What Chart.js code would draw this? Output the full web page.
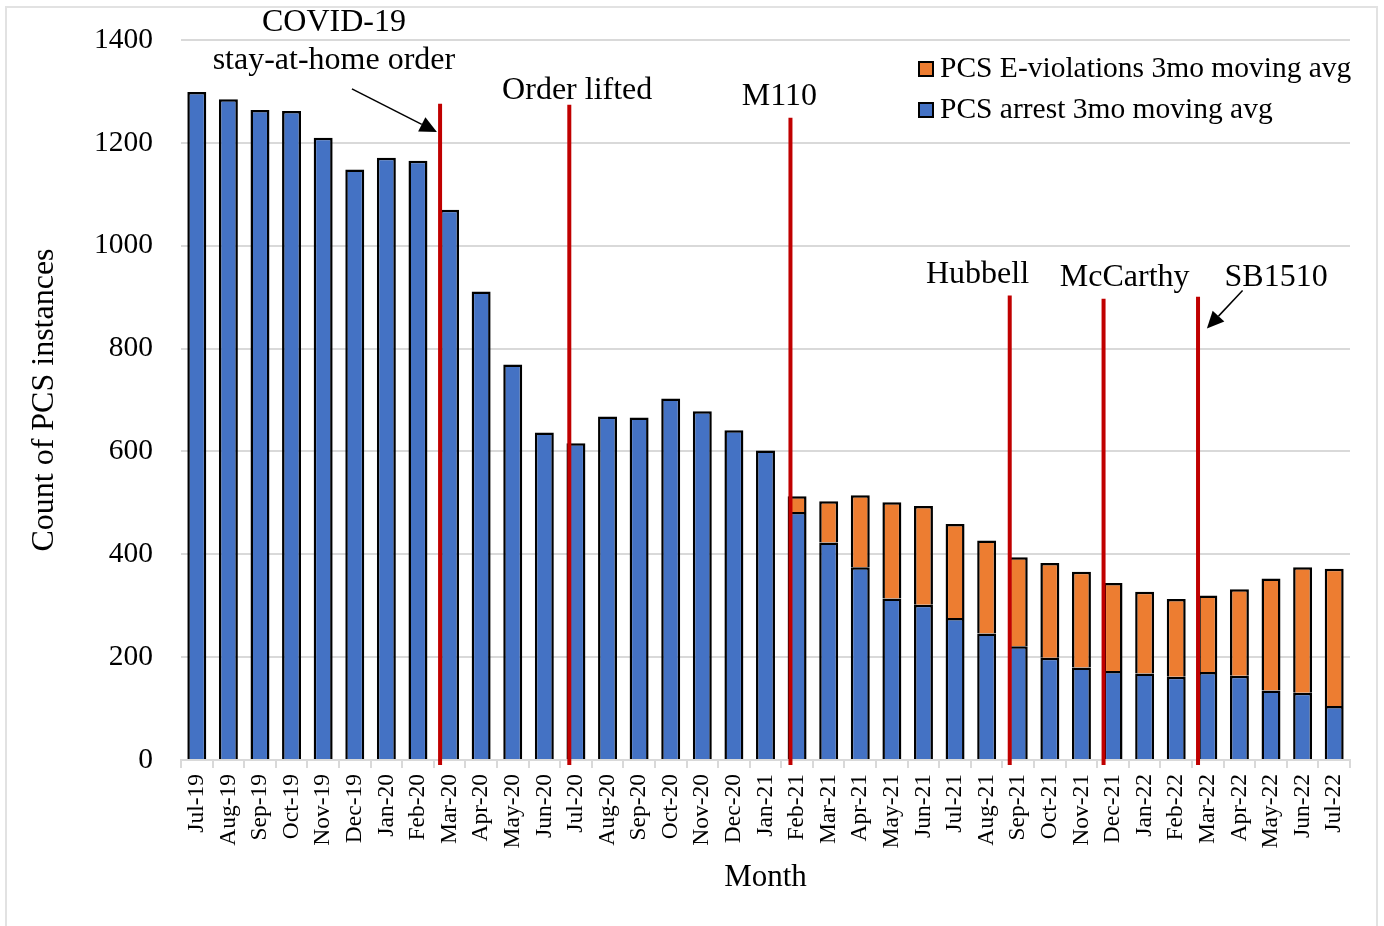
<!DOCTYPE html>
<html>
<head>
<meta charset="utf-8">
<script src="https://cdn.jsdelivr.net/npm/chart.js@4"></script>
<style>
  html, body { margin: 0; padding: 0; background: #fff; }
  #wrap { position: relative; width: 1384px; height: 926px; }
  #frame { position: absolute; left: 5px; top: 6px; width: 1373px; height: 940px; border: 2px solid #e2e2e2; box-sizing: border-box; pointer-events: none; }
</style>
</head>
<body>
<div id="wrap">
  <canvas id="pcsChart"></canvas>
  <div id="frame"></div>
</div>
<script>
// Data
const months = ["Jul-19","Aug-19","Sep-19","Oct-19","Nov-19","Dec-19","Jan-20","Feb-20","Mar-20","Apr-20","May-20","Jun-20",
  "Jul-20","Aug-20","Sep-20","Oct-20","Nov-20","Dec-20","Jan-21","Feb-21","Mar-21","Apr-21","May-21","Jun-21",
  "Jul-21","Aug-21","Sep-21","Oct-21","Nov-21","Dec-21","Jan-22","Feb-22","Mar-22","Apr-22","May-22","Jun-22","Jul-22"];
const arrestAvg = [1299,1285,1264,1262,1210,1148,1171,1165,1070,911,769,637,
  616,668,666,703,678,641,602,482,423,375,314,302,
  276,246,221,199,180,173,168,162,171,164,135,131,105];
const eViolationAvg = [null,null,null,null,null,null,null,null,null,null,null,null,
  null,null,null,null,null,null,null,31,80,140,187,192,
  183,181,173,184,186,171,159,151,149,168,218,244,267];
const yTicks = [0,200,400,600,800,1000,1200,1400];

// Policy events: position on the month axis, top of the marker line
const eventPos = [7.7, 11.79, 18.79, 25.73, 28.7, 31.69];
const eventTop = [1276, 1274, 1249, 903, 897, 901];
// Annotation texts [text, month position, value]
const notes = [
  ["COVID-19", 4.34, 1433],
  ["stay-at-home order", 4.34, 1359],
  ["Order lifted", 12.04, 1301],
  ["M110", 18.44, 1289],
  ["Hubbell", 24.71, 944],
  ["McCarthy", 29.37, 938],
  ["SB1510", 34.16, 938]
];
// Arrows [fromPos, fromVal, toPos, toVal]
const arrows = [
  [4.91, 1305, 7.6, 1221],
  [33.1, 913, 31.97, 839]
];

const FONT = "'Liberation Serif', 'Times New Roman', serif";
const BLUE = "#4472C4";
const ORANGE = "#ED7D31";

// ===================================
// ANNOTATION PLUGIN
// ===================================
const annotationPlugin = {
  id: "pcsAnnotations",
  afterDatasetsDraw(chart) {
    const { ctx, scales: { x, y }, chartArea } = chart;
    ctx.save();
    // red event lines
    ctx.strokeStyle = "#C00000";
    ctx.lineWidth = 4;
    eventPos.forEach((p, i) => {
      const px = x.getPixelForValue(p);
      ctx.beginPath();
      ctx.moveTo(px, y.getPixelForValue(eventTop[i]));
      ctx.lineTo(px, chartArea.bottom + 5);
      ctx.stroke();
    });
    // labels
    ctx.fillStyle = "#000";
    ctx.font = "32px " + FONT;
    ctx.textAlign = "center";
    ctx.textBaseline = "middle";
    notes.forEach(([t, p, v]) => {
      ctx.fillText(t, x.getPixelForValue(p), y.getPixelForValue(v));
    });
    // arrows
    arrows.forEach(([p0, v0, p1, v1]) => {
      const x0 = x.getPixelForValue(p0), y0 = y.getPixelForValue(v0);
      const x1 = x.getPixelForValue(p1), y1 = y.getPixelForValue(v1);
      const ang = Math.atan2(y1 - y0, x1 - x0);
      const len = 17, half = 8;
      const bx = x1 - len * Math.cos(ang), by = y1 - len * Math.sin(ang);
      ctx.strokeStyle = "#000";
      ctx.lineWidth = 1.5;
      ctx.beginPath();
      ctx.moveTo(x0, y0);
      ctx.lineTo(bx, by);
      ctx.stroke();
      ctx.beginPath();
      ctx.moveTo(x1, y1);
      ctx.lineTo(bx + half * Math.sin(ang), by - half * Math.cos(ang));
      ctx.lineTo(bx - half * Math.sin(ang), by + half * Math.cos(ang));
      ctx.closePath();
      ctx.fill();
    });
    // legend (orange listed first, as in the source)
    const items = [chart.data.datasets[1], chart.data.datasets[0]];
    const lx = chartArea.right - 431;
    ctx.font = "29.5px " + FONT;
    ctx.textAlign = "left";
    items.forEach((ds, i) => {
      const cy = chartArea.top + 29 + i * 41;
      ctx.fillStyle = ds.backgroundColor;
      ctx.fillRect(lx, cy - 7, 14, 14);
      ctx.strokeStyle = "#000";
      ctx.lineWidth = 2;
      ctx.strokeRect(lx, cy - 7, 14, 14);
      ctx.fillStyle = "#000";
      ctx.fillText(ds.label, lx + 21, cy);
    });
    ctx.restore();
  }
};

// ===================================
// CHART
// ===================================
new Chart(document.getElementById("pcsChart"), {
  type: "bar",
  data: {
    labels: months,
    datasets: [
      {
        label: "PCS arrest 3mo moving avg",
        data: arrestAvg,
        backgroundColor: BLUE,
        borderColor: "#000",
        borderWidth: 2.5,
        borderSkipped: "start"
      },
      {
        label: "PCS E-violations 3mo moving avg",
        data: eViolationAvg,
        backgroundColor: ORANGE,
        borderColor: "#000",
        borderWidth: 2.5,
        borderSkipped: "start"
      }
    ]
  },
  options: {
    responsive: true,
    maintainAspectRatio: false,
    animation: false,
    barPercentage: 0.6,
    categoryPercentage: 1,
    layout: { padding: { top: 40, right: 34, left: 10, bottom: 0 } },
    plugins: {
      legend: { display: false },
      tooltip: { enabled: false }
    },
    scales: {
      x: {
        stacked: true,
        afterFit: (s) => { s.height = 166; },
        grid: { drawOnChartArea: false, color: "#D9D9D9", lineWidth: 2, tickLength: 8, offset: true },
        border: { color: "#D9D9D9", width: 2 },
        ticks: {
          autoSkip: false, minRotation: 90, maxRotation: 90, padding: 6,
          color: "#000", font: { family: FONT, size: 23.5 }
        },
        title: {
          display: true, text: "Month", color: "#000",
          font: { family: FONT, size: 31 }, padding: { top: 0, bottom: 30 }
        }
      },
      y: {
        stacked: true,
        min: 0,
        max: 1400,
        afterFit: (s) => { s.width = 171; s.paddingTop = 0; s.paddingBottom = 0; },
        afterBuildTicks: (s) => { s.ticks = yTicks.map(v => ({ value: v })); },
        grid: { color: "#D9D9D9", lineWidth: 2, drawTicks: false },
        border: { display: false },
        ticks: {
          padding: 28, color: "#000", font: { family: FONT, size: 29.5 },
          callback: (v) => String(v)
        },
        title: {
          display: true, text: "Count of PCS instances", color: "#000",
          font: { family: FONT, size: 32 }, padding: { top: 15, bottom: 0 }
        }
      }
    }
  },
  plugins: [annotationPlugin]
});
</script>
</body>
</html>
